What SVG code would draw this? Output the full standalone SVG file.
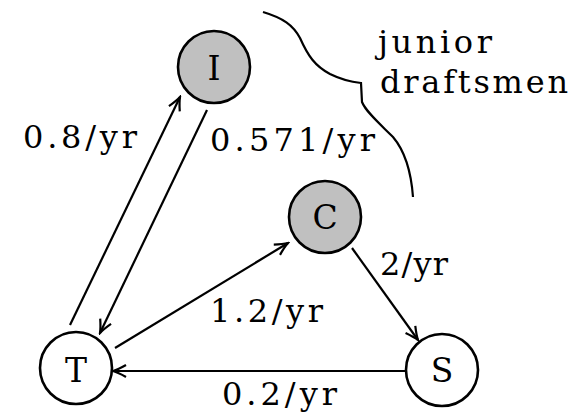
<svg xmlns="http://www.w3.org/2000/svg" width="581" height="419" viewBox="0 0 581 419">
<style>
.node{stroke:#000;stroke-width:2.6}
.gray{fill:#c0c0c0}
.white{fill:#fff}
.edge{stroke:#000;stroke-width:2.2;fill:none}
text{font-family:"DejaVu Serif","Liberation Serif",serif;font-size:32px;fill:#000}
.nl{text-anchor:middle;font-size:33px}
</style>
<defs>
<marker id="arr" viewBox="-15 -8 17 16" refX="0" refY="0" markerWidth="17" markerHeight="16" markerUnits="userSpaceOnUse" orient="auto">
<path d="M-13,-6 Q-5,-1.5 0,0 Q-5,1.5 -13,6" fill="none" stroke="#000" stroke-width="2.2"/>
</marker>
</defs>
<rect width="581" height="419" fill="#fff"/>
<g id="connectors">
<line class="edge" x1="70" y1="325" x2="180" y2="97" marker-end="url(#arr)"/>
<line class="edge" x1="207" y1="110" x2="100" y2="333" marker-end="url(#arr)"/>
<line class="edge" x1="115" y1="348" x2="288" y2="243" marker-end="url(#arr)"/>
<line class="edge" x1="352" y1="248" x2="418" y2="340" marker-end="url(#arr)"/>
<line class="edge" x1="406" y1="371" x2="113" y2="371" marker-end="url(#arr)"/>
</g>
<g id="boundary">
<path class="edge" d="M263,12 C283,18 293,25 300,38 C308,56 315,66 330,74 C342,80 352,82 361,83 L362,102 C366,112 380,124 393,137 C404,150 411,170 413,197"/>
</g>
<g id="node-I"><circle class="node gray" cx="214" cy="67" r="36"/><text class="nl" x="214" y="80">I</text></g>
<g id="node-C"><circle class="node gray" cx="325" cy="217" r="36"/><text class="nl" x="325" y="229">C</text></g>
<g id="node-T"><circle class="node white" cx="76" cy="368" r="36"/><text class="nl" x="76" y="382">T</text></g>
<g id="node-S"><circle class="node white" cx="442" cy="370" r="36"/><text class="nl" x="442" y="382">S</text></g>
<g id="labels">
<text x="23" y="148" textLength="114" lengthAdjust="spacing">0.8/yr</text>
<text x="210" y="151" textLength="165" lengthAdjust="spacing">0.571/yr</text>
<text x="210" y="322" textLength="113" lengthAdjust="spacing">1.2/yr</text>
<text x="380" y="275" textLength="68" lengthAdjust="spacing">2/yr</text>
<text x="222" y="405" textLength="115" lengthAdjust="spacing">0.2/yr</text>
<text x="378" y="53" textLength="114" lengthAdjust="spacing">junior</text>
<text x="380" y="93" textLength="188" lengthAdjust="spacing">draftsmen</text>
</g>
</svg>
